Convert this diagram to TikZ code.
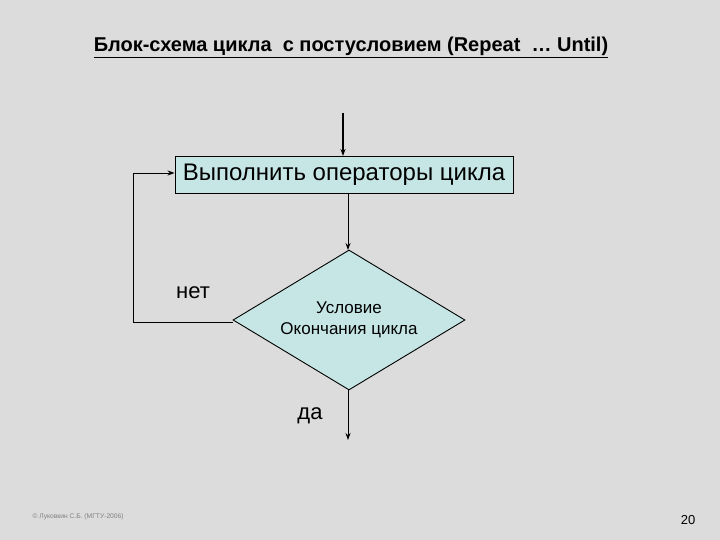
\documentclass[tikz,border=0pt]{standalone}
\usepackage{fontspec}
\setmainfont{Liberation Sans}
\usetikzlibrary{shapes.geometric,arrows.meta}
\definecolor{bg}{HTML}{DCDCDC}
\definecolor{boxfill}{HTML}{C6E6E6}
\begin{document}
\begin{tikzpicture}[x=1pt,y=-1pt,
  line/.style={draw=black,line width=0.9pt},
  arr/.style={line,-{Stealth[length=7pt,width=5pt]}}]
\fill[bg] (0,0) rectangle (720,540);
\useasboundingbox (0,0) rectangle (720,540);
\node[anchor=center,font=\bfseries\fontsize{20}{22}\selectfont] (title) at (351,47) {\underline{Блок-схема цикла\ \ с постусловием (Repeat\ \ … Until)}};
\node[draw=black,line width=0.9pt,fill=boxfill,minimum width=338pt,minimum height=37pt,inner sep=0pt,font=\fontsize{24}{26}\selectfont] (box) at (344,174.5) {Выполнить операторы цикла};
\node[draw=black,line width=0.9pt,fill=boxfill,diamond,minimum width=232pt,minimum height=140pt,inner sep=0pt,aspect=1.657,align=center,font=\fontsize{17}{20.5}\selectfont] (cond) at (349,320) {Условие\\Окончания цикла};
\coordinate (top) at (343,113);
\coordinate (tin) at (343,156);
\coordinate (bout) at (348,193);
\coordinate (dtop) at (348,250);
\coordinate (ltop) at (133,173);
\coordinate (lbot) at (133,322);
\coordinate (dleft) at (233,322);
\coordinate (dbot) at (348,390);
\coordinate (endp) at (348,440);
\draw[arr,line width=1.8pt] (top) -- (tin);
\draw[arr] (bout) -- (dtop);
\draw[arr] (dleft) -- (lbot) -- (ltop) -- (box.west |- ltop);
\draw[arr] (dbot) -- (endp);
\node[font=\fontsize{22}{24}\selectfont] (net) at (193,293) {нет};
\node[font=\fontsize{22}{24}\selectfont] (da) at (310,416) {да};
\node[anchor=west,text=gray,font=\fontsize{6.7}{8}\selectfont] (foot) at (29,517) {© Луковкин С.Б. (МГТУ-2006)};
\node[font=\fontsize{13}{15}\selectfont] (num) at (688,520) {20};
\end{tikzpicture}
\end{document}
